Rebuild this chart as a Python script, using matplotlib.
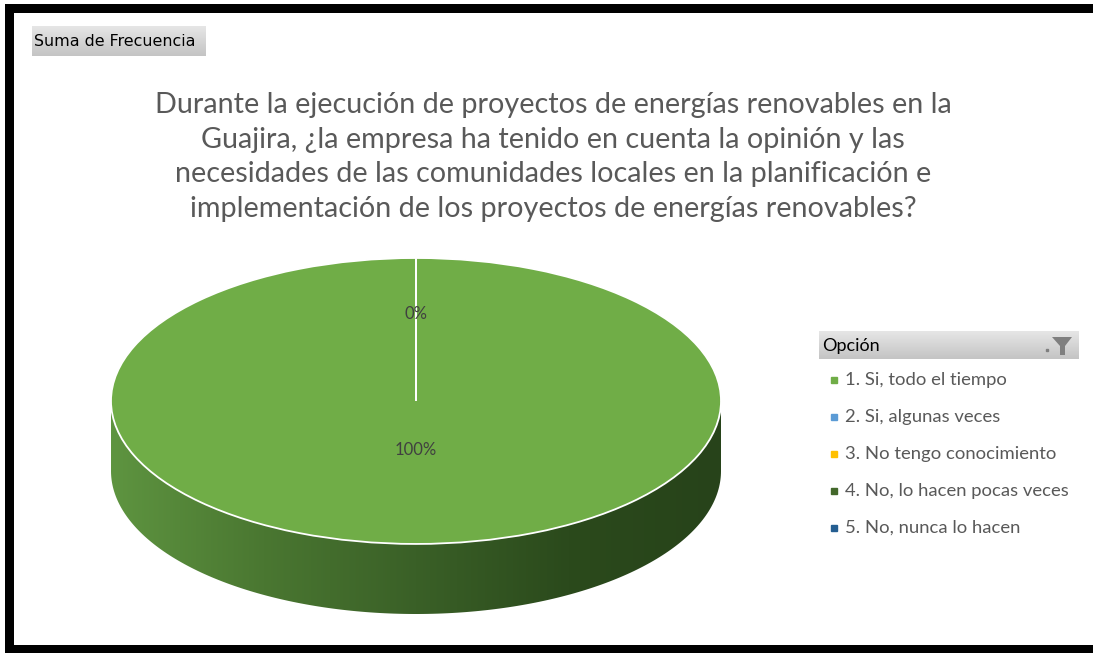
import numpy as np
import matplotlib
matplotlib.use("Agg")
import matplotlib.pyplot as plt
from matplotlib.patches import Rectangle, Polygon
from matplotlib.colors import LinearSegmentedColormap

# data
titulo = ("Durante la ejecución de proyectos de energías renovables en la\n"
          "Guajira, ¿la empresa ha tenido en cuenta la opinión y las\n"
          "necesidades de las comunidades locales en la planificación e\n"
          "implementación de los proyectos de energías renovables?")
opciones = ["1. Si, todo el tiempo", "2. Si, algunas veces", "3. No tengo conocimiento",
            "4. No, lo hacen pocas veces", "5. No, nunca lo hacen"]
frecuencia = [100, 0, 0, 0, 0]
colores = ["#70AD47", "#5B9BD5", "#FFC000", "#43682B", "#255E91"]

W, H = 1093, 653
plt.rcParams["font.family"] = ["Lato", "DejaVu Sans"]
fig = plt.figure(figsize=(W / 100, H / 100), dpi=100)
fig.patch.set_facecolor("white")

# background axes in pixel coordinates for the decoration
bg = fig.add_axes([0, 0, 1, 1])
bg.axis("off")

# black frame (left, top, bottom)
bg.add_patch(Rectangle((5, 4), 9, H - 4, color="black", lw=0))
bg.add_patch(Rectangle((5, 4), W - 5, 9, color="black", lw=0))
bg.add_patch(Rectangle((5, 645), W - 5, 8, color="black", lw=0))

# "Suma de Frecuencia" button
grad = np.linspace(0, 1, 50).reshape(-1, 1)
gray = LinearSegmentedColormap.from_list("g", ["#e6e6e6", "#c4c4c4"])
bg.imshow(grad, cmap=gray, extent=(32, 206, 56, 26), aspect="auto", zorder=1)
bg.text(34, 42, "Suma de Frecuencia", fontsize=11.4, color="black",
        va="center", ha="left", family=["DejaVu Sans"], zorder=2)

# title
bg.text(553, 157, titulo, fontsize=20.7, color="#595959", ha="center",
        va="center", linespacing=1.42)

# legend header
bg.imshow(grad, cmap=gray, extent=(819, 1079, 359, 331), aspect="auto", zorder=1)
bg.text(822, 346, "Opción", fontsize=13, color="black", va="center", ha="left", zorder=2)
bg.add_patch(Polygon([[1052, 337], [1072, 337], [1065, 346], [1065, 355],
                      [1060, 355], [1060, 346]], color="#7f7f7f", lw=0, zorder=2))
bg.plot([1047], [350], marker="s", ms=1.5, color="#7f7f7f", zorder=2)

# legend items
for i, (lab, col) in enumerate(zip(opciones, colores)):
    y = 380 + i * 37
    bg.plot([834], [y], marker="s", ms=4.5, color=col, lw=0)
    bg.text(845, y, lab, fontsize=13.3, color="#595959", va="center", ha="left")

bg.set_xlim(0, W)
bg.set_ylim(H, 0)

# 3D pie
depth = 0.49
left, right, top, bottom = 111, 721, 258, 614
ax = fig.add_axes([left / W, 1 - bottom / H, (right - left) / W, (bottom - top) / H])
ax.patch.set_alpha(0)
wedges, _ = ax.pie(frecuencia, colors=colores, startangle=90, counterclock=False,
                   wedgeprops=dict(edgecolor="white", linewidth=1.3), normalize=True)

# side of the cylinder with a horizontal gradient
t = np.linspace(np.pi, 2 * np.pi, 200)
edge_top = np.column_stack([np.cos(t), np.sin(t)])
edge_bot = np.column_stack([np.cos(t[::-1]), np.sin(t[::-1]) - depth])
side = Polygon(np.vstack([edge_top, edge_bot]), closed=True, facecolor="none",
               edgecolor="none", transform=ax.transData)
ax.add_patch(side)
side_cmap = LinearSegmentedColormap.from_list(
    "s", ["#5e9440", "#4a7731", "#3a6027", "#2b4a1c", "#27431a"])
xg = np.linspace(0, 1, 256).reshape(1, -1)
im = ax.imshow(xg, cmap=side_cmap, extent=(-1, 1, -1 - depth, 0), aspect="auto", zorder=0)
im.set_clip_path(side)
for w in wedges:
    w.set_zorder(2)

# percentage labels (zero slices all sit at the same spot, draw that one once)
total = sum(frecuencia)
ang = 90
drawn = set()
for v in frecuencia:
    span = 360 * v / total
    mid = np.radians(ang - span / 2)
    ang -= span
    r = 0.34 if v > 0 else 0.61
    key = (round(r * np.cos(mid), 3), round(r * np.sin(mid), 3))
    if key in drawn:
        continue
    drawn.add(key)
    ax.text(key[0], key[1], "%d%%" % round(100 * v / total),
            ha="center", va="center", fontsize=12, color="#404040", zorder=3)

ax.set_aspect("auto")
ax.set_xlim(-1, 1)
ax.set_ylim(-1 - depth, 1)
ax.axis("off")

fig.savefig("out.png", dpi=100)
